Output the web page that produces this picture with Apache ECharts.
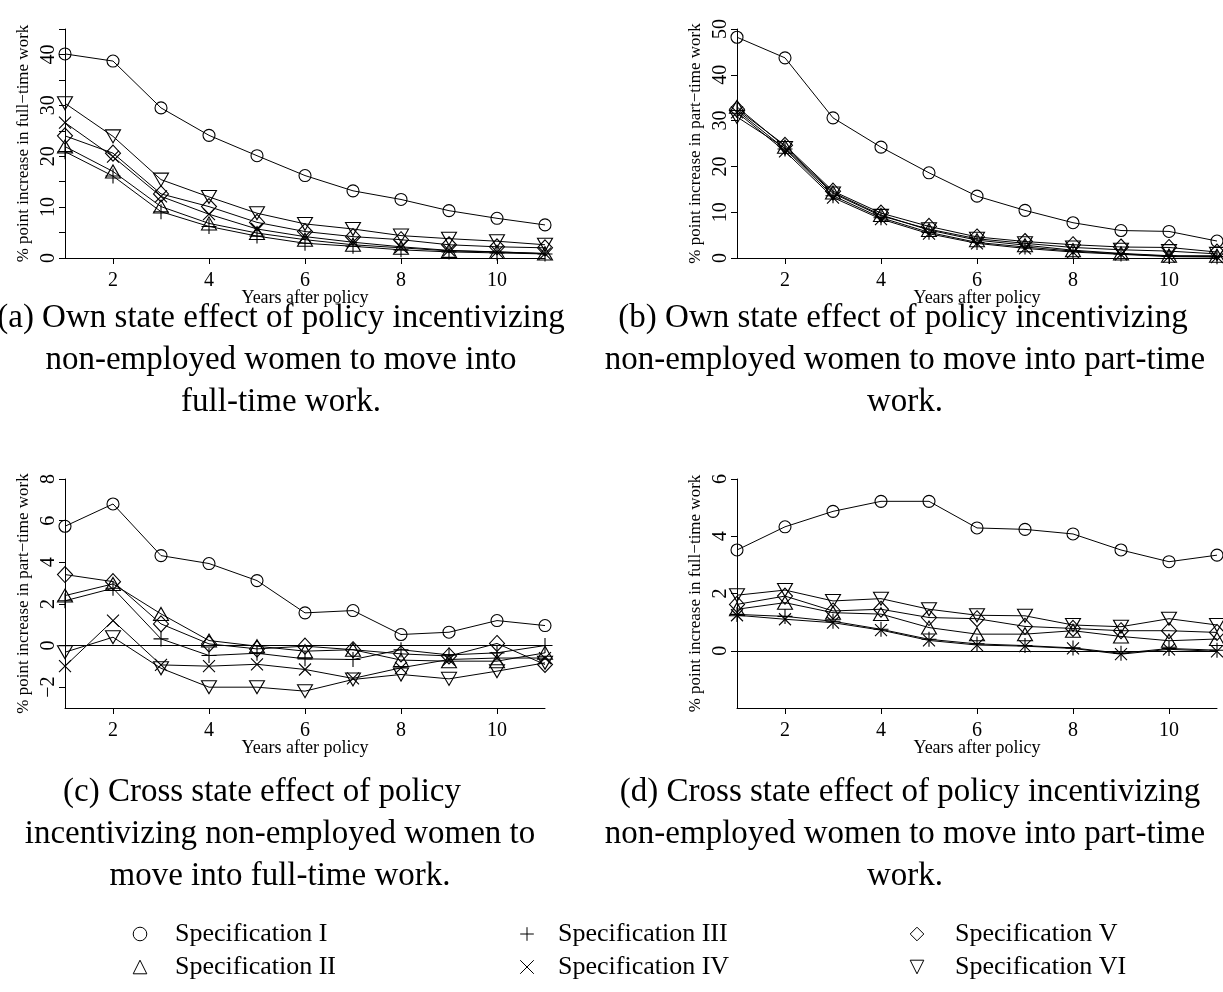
<!DOCTYPE html>
<html>
<head>
<meta charset="utf-8">
<script src="https://cdn.jsdelivr.net/npm/echarts@6/dist/echarts.min.js"></script>
<style>
html,body{margin:0;padding:0;background:#fff;}
#chart{width:1223px;height:992px;}
</style>
</head>
<body>
<div id="chart"></div>
<script>
// ---------- data ----------
const years = [1, 2, 3, 4, 5, 6, 7, 8, 9, 10, 11];
const specNames = ['Specification I', 'Specification II', 'Specification III',
                   'Specification IV', 'Specification V', 'Specification VI'];

// (a) own state effect, full-time policy (% point increase in full-time work)
const a_I   = [40.1, 38.7, 29.5, 24.1, 20.1, 16.2, 13.2, 11.5, 9.3, 7.8, 6.5];
const a_II  = [21.9, 17.0, 10.1, 6.8, 4.9, 3.6, 2.6, 2.0, 1.4, 1.2, 0.9];
const a_III = [20.9, 16.1, 9.1, 6.2, 4.3, 2.9, 2.3, 1.6, 1.2, 1.0, 0.8];
const a_IV  = [26.6, 19.9, 12.1, 8.6, 5.7, 4.2, 3.1, 2.2, 1.5, 1.2, 0.85];
const a_V   = [24.0, 20.6, 12.6, 10.1, 7.0, 5.2, 4.2, 3.6, 2.6, 2.2, 2.0];
const a_VI  = [30.4, 23.9, 15.4, 12.0, 8.8, 6.7, 5.7, 4.4, 3.8, 3.3, 2.6];

// (b) own state effect, part-time policy (% point increase in part-time work)
const b_I   = [48.2, 43.7, 30.6, 24.2, 18.6, 13.5, 10.4, 7.7, 6.0, 5.8, 3.7];
const b_II  = [33.0, 24.3, 14.3, 9.4, 6.1, 3.9, 2.8, 1.7, 1.0, 0.5, 0.5];
const b_III = [32.2, 23.8, 13.6, 8.8, 5.6, 3.4, 2.4, 1.5, 0.9, 0.4, 0.3];
const b_IV  = [31.8, 23.3, 13.2, 8.5, 5.3, 3.2, 2.1, 1.3, 0.8, 0.3, 0.2];
const b_V   = [32.5, 24.6, 14.6, 9.8, 6.9, 4.6, 3.6, 2.9, 2.4, 2.3, 1.3];
const b_VI  = [30.8, 24.0, 14.1, 9.2, 6.3, 4.2, 3.2, 2.3, 1.8, 1.5, 0.9];

// (c) cross state effect, full-time policy (% point increase in part-time work)
const c_I   = [5.73, 6.8, 4.32, 3.94, 3.12, 1.57, 1.68, 0.53, 0.64, 1.2, 0.96];
const c_II  = [2.4, 2.96, 1.52, 0.24, -0.03, -0.27, -0.2, -0.7, -0.75, -0.75, -0.35];
const c_III = [2.15, 2.75, 0.32, -0.48, -0.37, -0.64, -0.67, -0.2, -0.45, -0.35, 0.0];
const c_IV  = [-0.99, 1.2, -0.93, -0.99, -0.9, -1.15, -1.58, -1.07, -0.67, -0.6, -0.6];
const c_V   = [3.41, 3.07, 1.04, 0.08, -0.16, -0.03, -0.2, -0.4, -0.5, 0.1, -0.91];
const c_VI  = [-0.32, 0.4, -1.09, -2.0, -2.0, -2.19, -1.63, -1.39, -1.6, -1.23, -0.83];

// (d) cross state effect, part-time policy (% point increase in full-time work)
const d_I   = [3.52, 4.33, 4.87, 5.22, 5.22, 4.29, 4.24, 4.08, 3.52, 3.11, 3.34];
const d_II  = [1.45, 1.68, 1.33, 1.28, 0.81, 0.58, 0.58, 0.7, 0.5, 0.35, 0.41];
const d_III = [1.27, 1.2, 1.03, 0.75, 0.4, 0.24, 0.18, 0.1, -0.09, 0.08, 0.02];
const d_IV  = [1.24, 1.1, 0.98, 0.72, 0.36, 0.2, 0.16, 0.08, -0.12, 0.05, -0.02];
const d_V   = [1.62, 1.91, 1.39, 1.45, 1.16, 1.12, 0.85, 0.78, 0.7, 0.7, 0.64];
const d_VI  = [1.94, 2.12, 1.74, 1.82, 1.45, 1.24, 1.22, 0.9, 0.84, 1.12, 0.9];

// tick labels
const xTicks = [2, 4, 6, 8, 10];
const aYTicks = [0, 5, 10, 15, 20, 25, 30, 35, 40, 45];
const aYLabels = [0, 10, 20, 30, 40];
const bYTicks = [0, 10, 20, 30, 40, 50];
const bYLabels = [0, 10, 20, 30, 40, 50];
const cYTicks = [-2, 0, 2, 4, 6, 8];
const dYTicks = [0, 2, 4, 6];

const yNames = ['% point increase in full\u2212time work', '% point increase in part\u2212time work',
                '% point increase in part\u2212time work', '% point increase in full\u2212time work'];
const xName = 'Years after policy';

const captions = [
  ['(a) Own state effect of policy incentivizing', 'non-employed women to move into', 'full-time work.'],
  ['(b) Own state effect of policy incentivizing', 'non-employed women to move into part-time', 'work.'],
  ['(c) Cross state effect of policy', 'incentivizing non-employed women to', 'move into full-time work.'],
  ['(d) Cross state effect of policy incentivizing', 'non-employed women to move into part-time', 'work.']
];

// ---------- layout / styles ----------
const panelData = [
  [a_I, a_II, a_III, a_IV, a_V, a_VI],
  [b_I, b_II, b_III, b_IV, b_V, b_VI],
  [c_I, c_II, c_III, c_IV, c_V, c_VI],
  [d_I, d_II, d_III, d_IV, d_V, d_VI]
];
const grids = [
  {left: 65, top: 29, width: 480, height: 229},
  {left: 737, top: 29, width: 480, height: 229},
  {left: 65, top: 479, width: 480, height: 229},
  {left: 737, top: 479, width: 480, height: 229}
];
const yRanges = [[0, 45], [0, 50], [-3, 8], [-2, 6]];
const yTickSets = [aYTicks, bYTicks, cYTicks, dYTicks];
const yLabelSets = [aYLabels, bYLabels, cYTicks, dYTicks];

const FONT = 'Liberation Serif';
const symbols = [
  {symbol: 'circle', size: 12, rotate: 0},
  {symbol: 'triangle', size: [15, 13], rotate: 0},
  {symbol: 'path://M5,0L5,10M0,5L10,5', size: 15, rotate: 0},
  {symbol: 'path://M0,0L10,10M10,0L0,10', size: 12, rotate: 0},
  {symbol: 'diamond', size: [15, 16], rotate: 0},
  {symbol: 'triangle', size: [15, 13], rotate: 180}
];

const fmtNum = v => (v < 0 ? '\u2212' + Math.abs(v) : String(v));

const xAxes = grids.map((g, i) => ({
  type: 'value', gridIndex: i, min: 1, max: 11,
  name: xName, nameLocation: 'middle', nameGap: 31, nameMoveOverlap: false,
  nameTextStyle: {fontFamily: FONT, fontSize: 18, color: '#000'},
  axisLine: {show: true, onZero: false, lineStyle: {color: '#000', width: 1}},
  axisTick: {show: true, inside: false, length: 6, customValues: xTicks, lineStyle: {color: '#000'}},
  axisLabel: {show: true, customValues: xTicks, margin: 13, fontFamily: FONT, fontSize: 20, color: '#000'},
  splitLine: {show: false}
}));

const yAxes = grids.map((g, i) => ({
  type: 'value', gridIndex: i, min: yRanges[i][0], max: yRanges[i][1],
  name: yNames[i], nameLocation: 'middle', nameGap: 33, nameRotate: 90, nameMoveOverlap: false,
  nameTextStyle: {fontFamily: FONT, fontSize: 17, color: '#000'},
  axisLine: {show: true, onZero: false, lineStyle: {color: '#000', width: 1}},
  axisTick: {show: true, inside: false, length: 6, customValues: yTickSets[i], lineStyle: {color: '#000'}},
  axisLabel: {show: true, rotate: 90, customValues: yLabelSets[i], margin: 6,
              fontFamily: FONT, fontSize: 20, color: '#000', formatter: fmtNum},
  splitLine: {show: false}
}));

const series = [];
panelData.forEach((specs, p) => {
  specs.forEach((vals, s) => {
    const sym = symbols[s];
    const ser = {
      type: 'line', name: specNames[s], xAxisIndex: p, yAxisIndex: p,
      data: years.map((x, k) => [x, vals[k]]),
      symbol: sym.symbol, symbolSize: sym.size, symbolRotate: sym.rotate,
      showAllSymbol: true, clip: false,
      itemStyle: {color: 'rgba(0,0,0,0)', borderColor: '#000', borderWidth: 1.1},
      lineStyle: {color: '#000', width: 1},
      emphasis: {disabled: true},
      animation: false
    };
    if ((p === 2 || p === 3) && s === 0) {
      ser.markLine = {
        silent: true, symbol: 'none', animation: false,
        label: {show: false},
        lineStyle: {color: '#000', width: 1, type: 'solid'},
        data: [{yAxis: 0}]
      };
    }
    series.push(ser);
  });
});

const legendCommon = {
  orient: 'vertical', padding: 0, itemHeight: 17, itemGap: 7,
  selectedMode: false,
  lineStyle: {opacity: 0, width: 0},
  itemStyle: {color: 'rgba(0,0,0,0)', borderColor: '#000', borderWidth: 1},
  textStyle: {fontFamily: FONT, fontSize: 26, lineHeight: 26, color: '#000'}
};
const legends = [
  Object.assign({}, legendCommon, {data: [specNames[0], specNames[1]], left: 110, top: 921, itemWidth: 60}),
  Object.assign({}, legendCommon, {data: [specNames[2], specNames[3]], left: 501, top: 921, itemWidth: 52}),
  Object.assign({}, legendCommon, {data: [specNames[4], specNames[5]], left: 884, top: 921, itemWidth: 66})
];

const capCenters = [[281, 281, 281], [903, 905, 905], [262, 280, 280], [910, 905, 905]];
const capTops = [318, 792];
const graphics = [];
captions.forEach((lines, p) => {
  lines.forEach((t, k) => {
    graphics.push({
      type: 'text',
      x: capCenters[p][k],
      y: capTops[p < 2 ? 0 : 1] + k * 42,
      style: {text: t, fill: '#000', font: '33px "' + FONT + '"', align: 'center', verticalAlign: 'middle'},
      silent: true
    });
  });
});

const chart = echarts.init(document.getElementById('chart'), null, {renderer: 'canvas'});
chart.setOption({
  animation: false,
  backgroundColor: '#fff',
  grid: grids,
  xAxis: xAxes,
  yAxis: yAxes,
  legend: legends,
  series: series,
  graphic: graphics
});
</script>
</body>
</html>
